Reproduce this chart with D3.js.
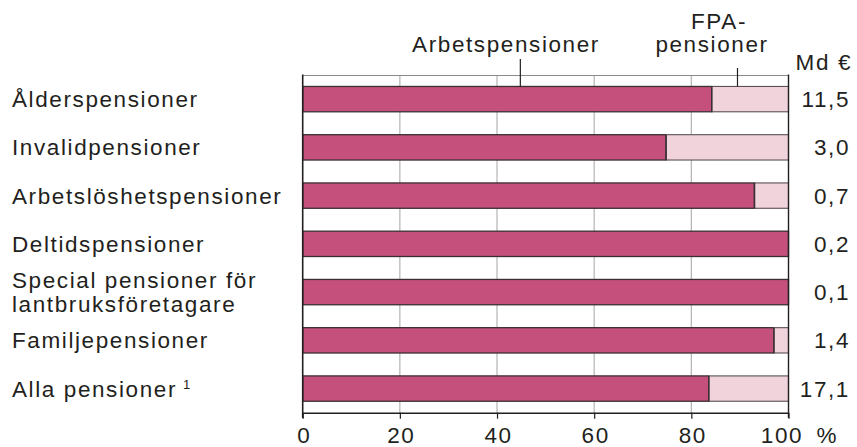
<!DOCTYPE html>
<html>
<head>
<meta charset="utf-8">
<script src="https://cdn.jsdelivr.net/npm/d3@7"></script>
<style>
  body { margin: 0; background: #fff; }
  text { font-family: "Liberation Sans", Arial, sans-serif; fill: #231f20; }
</style>
</head>
<body>
<div id="chart"></div>
<script>
// Data
const categories = [
  ["Ålderspensioner"],
  ["Invalidpensioner"],
  ["Arbetslöshetspensioner"],
  ["Deltidspensioner"],
  ["Special pensioner för", "lantbruksföretagare"],
  ["Familjepensioner"],
  ["Alla pensioner"]
];
const arbetsShare = [84.2, 74.8, 93.0, 100, 100, 97.0, 83.6];
const fpaShare = [15.8, 25.2, 7.0, 0, 0, 3.0, 16.4];
const totals = ["11,5", "3,0", "0,7", "0,2", "0,1", "1,4", "17,1"];
const ticks = [0, 20, 40, 60, 80, 100];

const drawChart = () => {

  // Dimensions
  const width = 857;
  const height = 447;
  const fontSize = 22.5;
  const spacing = 1.6;
  const lineGap = 23.5;

  const x = d3.scaleLinear()
    .domain([0, 100])
    .range([302.7, 788.5]);

  const y = d3.scaleBand()
    .domain(d3.range(categories.length))
    .range([75, 412.7])
    .paddingInner(0.475)
    .paddingOuter(0.2375);

  const rowData = categories.map((lines, i) => ({
    i,
    lines,
    arb: arbetsShare[i],
    fpa: fpaShare[i],
    total: totals[i]
  }));

  const svg = d3.select("#chart")
    .append("svg")
      .attr("width", width)
      .attr("height", height);

  // gridlines
  svg.selectAll(".grid")
    .data(ticks.slice(1, -1))
    .join("line")
      .attr("x1", d => x(d))
      .attr("x2", d => x(d))
      .attr("y1", y.range()[0])
      .attr("y2", y.range()[1])
      .attr("stroke", "#b3b3b3")
      .attr("stroke-width", 1.2);

  // top border
  svg.append("line")
    .attr("x1", x(0))
    .attr("x2", x(100))
    .attr("y1", 75.5)
    .attr("y2", 75.5)
    .attr("stroke", "#8a8a8a")
    .attr("stroke-width", 1.2);

  // bars
  const rows = svg.selectAll(".row")
    .data(rowData)
    .join("g")
      .attr("class", "row")
      .attr("transform", d => `translate(0, ${y(d.i)})`);

  rows.append("rect")
    .attr("x", x(0))
    .attr("y", 0)
    .attr("width", d => x(d.arb) - x(0))
    .attr("height", y.bandwidth())
    .attr("fill", "#c4507b")
    .attr("stroke", "#3a3034")
    .attr("stroke-width", 1.3);

  rows.filter(d => d.fpa > 0)
    .append("rect")
      .attr("x", d => x(d.arb))
      .attr("y", 0)
      .attr("width", d => x(d.arb + d.fpa) - x(d.arb))
      .attr("height", y.bandwidth())
      .attr("fill", "#f1d3dc")
      .attr("stroke", "#5a5054")
      .attr("stroke-width", 1.1);

  // dark divider between the two segments
  rows.filter(d => d.fpa > 0)
    .append("line")
      .attr("x1", d => x(d.arb))
      .attr("x2", d => x(d.arb))
      .attr("y1", 0)
      .attr("y2", y.bandwidth())
      .attr("stroke", "#3a3034")
      .attr("stroke-width", 1.5);

  // category labels
  rows.append("text")
    .attr("x", 12)
    .attr("y", y.bandwidth() / 2)
    .style("font-size", `${fontSize}px`)
    .style("letter-spacing", `${spacing}px`)
    .each(function(d) {
      const t = d3.select(this);
      const off = (d.lines.length - 1) * lineGap / 2;
      d.lines.forEach((line, k) => {
        t.append("tspan")
          .attr("x", 12)
          .attr("y", y.bandwidth() / 2 - off + k * lineGap + 8)
          .text(line);
      });
    });

  // superscript note
  rows.filter(d => d.i === categories.length - 1)
    .select("text")
    .append("tspan")
      .attr("dx", 6)
      .attr("dy", -8)
      .style("font-size", "13px")
      .style("letter-spacing", "0px")
      .text("1");

  // totals
  rows.append("text")
    .attr("x", 850)
    .attr("y", y.bandwidth() / 2 + 8)
    .attr("text-anchor", "end")
    .style("font-size", `${fontSize}px`)
    .style("letter-spacing", `${spacing}px`)
    .text(d => d.total);

  // axes
  svg.append("line")
    .attr("x1", x(0))
    .attr("x2", x(0))
    .attr("y1", 74.5)
    .attr("y2", 418)
    .attr("stroke", "#231f20")
    .attr("stroke-width", 1.6);

  svg.append("line")
    .attr("x1", x(100))
    .attr("x2", x(100))
    .attr("y1", 74.5)
    .attr("y2", 418)
    .attr("stroke", "#231f20")
    .attr("stroke-width", 1.4);

  const xAxis = svg.append("g")
    .attr("transform", `translate(0, ${y.range()[1]})`)
    .call(d3.axisBottom(x).tickValues(ticks).tickSize(6).tickPadding(8).tickSizeOuter(0));

  xAxis.select(".domain")
    .attr("stroke", "#231f20")
    .attr("stroke-width", 1.4);

  xAxis.selectAll(".tick line")
    .attr("stroke", "#231f20")
    .attr("stroke-width", 1.2);

  xAxis.selectAll(".tick text")
    .attr("font-family", null)
    .style("font-size", `${fontSize}px`)
    .style("letter-spacing", `${spacing}px`)
    .attr("fill", "#231f20")
    .attr("dx", d => d === 100 ? -7 : 1);

  svg.append("text")
    .attr("x", x(100) + 28)
    .attr("y", 443)
    .attr("text-anchor", "start")
    .style("font-size", `${fontSize}px`)
    .text("%");

  // legend labels
  svg.append("text")
    .attr("x", 506)
    .attr("y", 51.7)
    .attr("text-anchor", "middle")
    .style("font-size", `${fontSize}px`)
    .style("letter-spacing", `${spacing}px`)
    .text("Arbetspensioner");

  svg.append("text")
    .attr("x", 719)
    .attr("y", 29)
    .attr("text-anchor", "middle")
    .style("font-size", `${fontSize}px`)
    .style("letter-spacing", `${spacing}px`)
    .text("FPA-");

  svg.append("text")
    .attr("x", 712)
    .attr("y", 51.7)
    .attr("text-anchor", "middle")
    .style("font-size", `${fontSize}px`)
    .style("letter-spacing", `${spacing}px`)
    .text("pensioner");

  svg.append("text")
    .attr("x", 852)
    .attr("y", 70)
    .attr("text-anchor", "end")
    .style("font-size", `${fontSize}px`)
    .style("letter-spacing", `${spacing}px`)
    .text("Md €");

  // leader lines
  svg.selectAll(".leader")
    .data([44.8, 89.5])
    .join("line")
      .attr("x1", d => x(d))
      .attr("x2", d => x(d))
      .attr("y1", (d, i) => i === 0 ? 59 : 68)
      .attr("y2", y(0))
      .attr("stroke", "#231f20")
      .attr("stroke-width", 1.2);

};

drawChart();
</script>
</body>
</html>
